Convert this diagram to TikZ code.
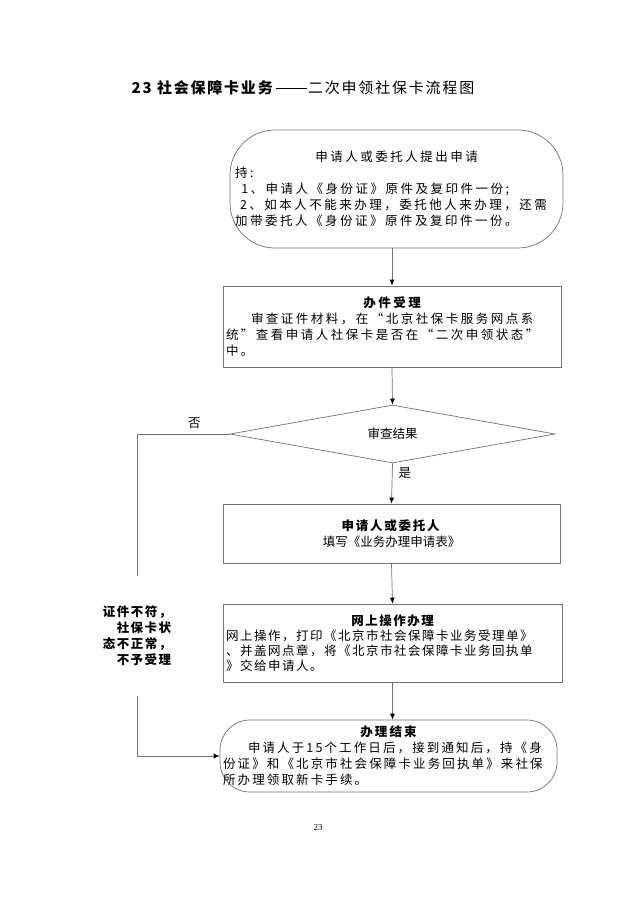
\documentclass[tikz,border=0pt]{standalone}
\usepackage{fontspec}
\setmainfont{Noto Sans CJK SC}
\newfontfamily\serifnum{Liberation Serif}
\usetikzlibrary{shapes.geometric,arrows.meta}
\tikzset{
  box/.style={draw=black!55, line width=0.7pt, inner sep=0pt, align=left, fill=white},
  conn/.style={draw=black!55, line width=0.7pt},
  arr/.style={conn, -{Latex[length=6pt,width=5pt,color=black]}},
  txt/.style={font=\fontsize{12.5}{16}\selectfont},
  lbl/.style={font=\fontsize{12.5}{15}\selectfont, inner sep=1pt}
}
\begin{document}
\begin{tikzpicture}[x=1pt,y=-1pt]
\useasboundingbox[fill=white] (0,0) rectangle (637,900);

\node[font=\fontsize{15}{18}\selectfont\addfontfeature{LetterSpace=12}] (title) at (303,88)
  {\textbf{23 社会保障卡业务}\hspace{1pt}\rule[0.33em]{2.1em}{0.05em}\hspace{1pt}二次申领社保卡流程图};

\node[box, txt, rounded corners=45pt, minimum width=333pt, minimum height=118pt, text width=323pt] (start) at (396.5,189)
  {\addfontfeature{LetterSpace=20}%
   {\centering 申请人或委托人提出申请\par}
   持:\\
   \hspace*{0.5em}1、申请人《身份证》原件及复印件一份;\\
   \hspace*{0.4em}2、如本人不能来办理，委托他人来办理，还需\\
   加带委托人《身份证》原件及复印件一份。};

\node[box, txt, minimum width=338pt, minimum height=81pt, text width=332pt] (accept) at (392,326.5)
  {\addfontfeature{LetterSpace=20}%
   {\centering\bfseries 办件受理\par}
   \hspace*{2em}审查证件材料，在“北京社保卡服务网点系\\
   统”查看申请人社保卡是否在“二次申领状态”\\
   中。};

\node[diamond, draw=black!55, line width=0.7pt, minimum width=325pt, minimum height=58pt, aspect=5.6, inner sep=0pt, txt] (check) at (392.5,434)
  {审查结果};

\node[box, txt, minimum width=337pt, minimum height=59pt, align=center] (fill) at (391.5,533.5)
  {\addfontfeature{LetterSpace=14}%
   \textbf{申请人或委托人}\\
   填写《业务办理申请表》};

\node[box, font=\fontsize{12.5}{15}\selectfont, minimum width=339pt, minimum height=78pt, text width=333pt] (online) at (392.5,643)
  {\addfontfeature{LetterSpace=12}%
   {\centering\bfseries 网上操作办理\par}
   网上操作，打印《北京市社会保障卡业务受理单》\\
   、并盖网点章，将《北京市社会保障卡业务回执单\\
   》交给申请人。};

\node[box, txt, rounded corners=30pt, minimum width=337pt, minimum height=72pt, text width=331pt] (finish) at (388.5,756)
  {\addfontfeature{LetterSpace=17}%
   {\centering\bfseries 办理结束\par}
   \hspace*{2em}申请人于15个工作日后，接到通知后，持《身\\
   份证》和《北京市社会保障卡业务回执单》来社保\\
   所办理领取新卡手续。};

\node[font=\fontsize{12.5}{16}\selectfont\bfseries\addfontfeature{LetterSpace=12}, align=right, fill=white, minimum height=119pt, inner sep=2pt] (reject) at (137,636)
  {证件不符，\\社保卡状\\态不正常，\\不予受理};

\node[font=\fontsize{9}{10}\selectfont\serifnum] (pagenum) at (318,828) {23};

\coordinate (corner) at (137,434);

\draw[arr] (accept.north |- start.south) -- (accept.north);
\draw[arr] (accept.south) -- (check.north);
\draw[arr] (check.south) -- node[lbl, pos=0.25, right=5pt] (yes) {是} (fill.north);
\draw[arr] (fill.south) -- (online.north);
\draw[arr] (online.south) -- (online.south |- finish.north);
\draw[conn] (check.west) -- node[lbl, pos=0.38, above=4pt] (no) {否} (corner) -- (reject.north);
\draw[arr] (reject.south) |- (finish.west);
\end{tikzpicture}
\end{document}
